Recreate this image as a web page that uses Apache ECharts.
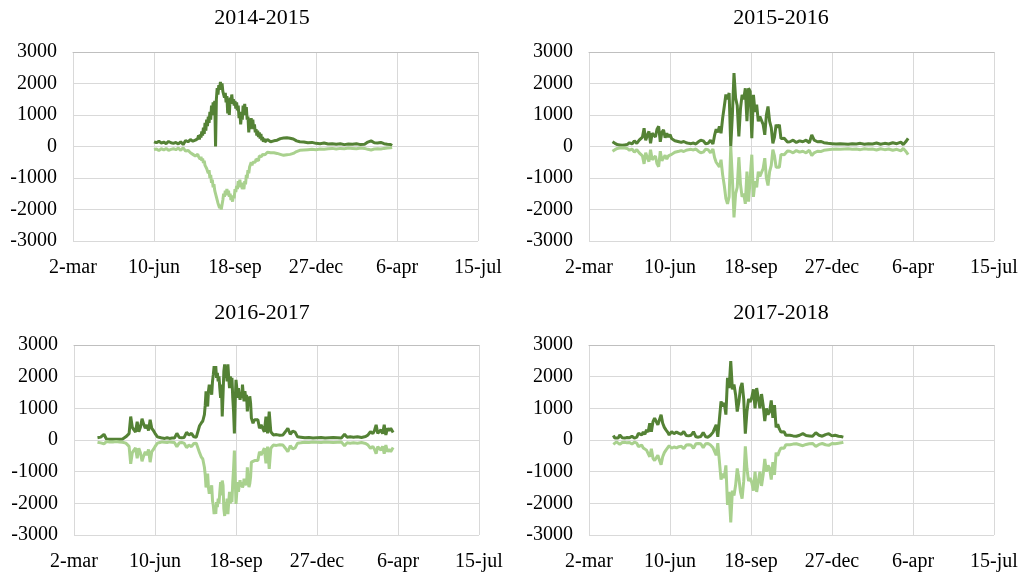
<!DOCTYPE html>
<html>
<head>
<meta charset="utf-8">
<script src="https://cdn.jsdelivr.net/npm/echarts@6/dist/echarts.min.js"></script>
<style>
    html, body { margin: 0; padding: 0; background: #fff; }
    #chart { width: 1027px; height: 573px; }
</style>
</head>
<body>
<div id="chart"></div>
<script>
// x is days counted from 2-mar, one tick every 100 days
var xTickLabels = ['2-mar', '10-jun', '18-sep', '27-dec', '6-apr', '15-jul'];
var seasons = ['2014-2015', '2015-2016', '2016-2017', '2017-2018'];

var days1415 = [100,103,106,109,112,115,118,121,124,127,130,133,136,139,142,145,148,151,
    154,155,156,157,158,159,160,161,162,163,164,165,166,167,168,169,170,171,172,173,
    174,175,176,177,178,179,180,181,182,183,184,185,186,187,188,189,190,191,192,193,
    194,195,196,197,198,199,200,201,202,203,204,205,206,207,208,209,210,211,212,213,
    214,215,216,217,218,219,220,221,222,223,224,225,226,227,228,229,230,231,232,233,
    234,235,236,237,238,239,240,
    244,248,252,256,260,264,268,272,276,
    280,285,290,295,300,305,310,315,320,325,330,335,340,345,350,355,360,
    364,368,372,376,380,384,388,392,394];
var in1415 = [150,120,170,110,140,90,160,120,100,130,80,150,60,190,150,220,170,200,
    250,350,220,380,280,480,350,600,400,750,500,850,650,950,750,1100,850,1300,1000,1400,
    1150,1450,0,1500,1850,1650,1950,1800,2050,1850,2000,1750,1800,1550,1700,1400,1600,1050,1400,1000,
    1550,1350,1650,1400,1500,1300,1450,1200,1400,1150,1300,900,1100,700,1000,850,1300,1100,1350,1000,
    1250,850,950,450,800,550,900,600,850,550,700,450,550,350,500,300,450,250,400,200,
    300,150,250,150,200,120,220,
    150,180,200,250,270,280,260,240,180,
    150,140,120,130,100,90,110,80,90,70,90,60,80,70,90,60,70,
    140,180,120,110,130,90,70,60,30];
var out1415 = [-100,-80,-130,-70,-110,-60,-120,-90,-70,-100,-50,-120,-40,-150,-120,-200,-250,-300,
    -250,-320,-280,-400,-330,-450,-380,-520,-450,-600,-550,-700,-650,-850,-750,-1000,-900,-1150,-1050,-1300,
    -1200,-1400,-1350,-1600,-1550,-1800,-1750,-1950,-1850,-2000,-1950,-1700,-1500,-1600,-1400,-1550,-1350,-1500,-1400,-1600,
    -1500,-1700,-1600,-1750,-1550,-1650,-1350,-1450,-1250,-1350,-1100,-1250,-1050,-1300,-1150,-1350,-1250,-1350,-1100,-1200,
    -900,-1000,-750,-850,-650,-700,-500,-600,-500,-550,-450,-500,-400,-450,-350,-450,-300,-350,-280,-320,
    -250,-300,-220,-260,-200,-240,-180,
    -200,-200,-220,-250,-280,-260,-250,-220,-160,
    -120,-110,-100,-90,-100,-80,-90,-70,-60,-80,-60,-70,-50,-60,-70,-50,-60,
    -90,-110,-80,-70,-80,-60,-50,-40,-30];

var days1516 = [29,32,35,38,41,44,47,50,53,56,59,62,
    64,66,68,70,72,74,76,78,80,82,84,86,88,90,92,94,96,98,100,102,104,106,108,
    111,114,117,120,123,126,129,132,135,138,141,144,147,150,153,
    155,157,159,161,163,165,167,169,171,173,175,177,179,181,183,185,187,189,191,193,195,197,199,201,203,205,207,209,211,213,215,217,219,221,223,225,227,229,231,233,235,237,239,241,243,245,
    248,252,256,260,264,268,272,275,278,282,286,290,295,300,305,310,315,320,325,330,335,340,345,350,355,360,365,370,375,380,385,388,391,394];
var in1516 = [150,100,60,50,40,50,60,120,80,180,100,200,
    260,300,580,200,350,480,100,420,380,300,550,640,150,450,530,280,420,300,380,250,300,180,220,
    150,130,160,120,100,90,110,80,150,200,180,90,100,200,80,
    350,550,450,640,420,900,1270,1650,1500,1700,0,1000,2330,1540,1300,320,1200,1640,1500,1850,800,1850,1750,260,1640,1100,1330,800,950,1000,700,370,1000,1270,800,600,100,300,690,600,690,250,300,260,200,140,
    150,200,130,180,150,200,120,370,200,150,160,120,100,90,80,90,80,70,90,80,100,70,90,80,110,70,100,80,120,90,140,60,150,260];
var out1516 = [-150,-100,-60,-50,-40,-50,-60,-120,-80,-180,-100,-200,
    -260,-300,-550,-200,-350,-480,-100,-420,-380,-300,-550,-640,-150,-450,-500,-280,-400,-300,-350,-250,-280,-180,-200,
    -150,-130,-160,-120,-100,-90,-110,-80,-150,-200,-180,-90,-100,-200,-80,
    -350,-500,-450,-650,-420,-900,-1240,-1650,-1820,-1600,0,-1000,-2250,-1500,-1300,-340,-1200,-1600,-1500,-1820,-800,-1750,-1700,-260,-1600,-1100,-1300,-800,-950,-1000,-700,-370,-1000,-1240,-800,-600,-100,-300,-660,-600,-660,-250,-300,-260,-200,-140,
    -150,-200,-130,-180,-150,-200,-120,-290,-200,-150,-160,-120,-100,-90,-80,-90,-80,-70,-90,-80,-100,-70,-90,-80,-110,-70,-100,-80,-120,-90,-140,-60,-150,-260];

var days1617 = [29,31,33,35,37,40,44,48,52,56,60,62,
    64,66,68,70,72,74,76,78,80,82,84,86,88,90,92,94,96,98,100,
    103,106,109,112,115,118,121,124,127,130,133,136,139,142,145,148,151,
    153,155,157,159,
    161,162,163,164,165,166,167,168,169,170,171,172,173,174,175,176,177,178,179,180,
    181,182,183,184,185,186,187,188,189,190,191,192,193,194,195,196,197,198,199,200,
    201,202,203,204,205,206,207,208,209,210,211,212,213,214,215,216,217,218,219,
    221,223,225,227,229,231,233,235,237,239,241,243,
    246,250,254,258,261,264,267,270,273,276,280,285,290,295,300,305,310,315,320,325,330,334,337,341,345,350,355,360,363,366,369,371,373,375,377,379,381,383,385,387,389,391,394];
var in1617 = [70,50,90,60,180,30,20,20,20,20,30,60,
    100,160,200,740,400,320,250,580,260,400,670,500,370,480,300,640,370,300,210,
    100,80,60,50,70,50,60,60,210,80,70,80,240,160,210,100,90,
    120,450,530,600,
    800,1100,1540,1220,1060,1540,1750,1480,1640,1430,1850,2070,2330,2170,2330,1960,2120,1850,2010,1640,
    1330,1750,740,1430,2170,2390,1960,2230,1850,2390,1960,1640,2010,1750,1960,1330,900,210,1220,1900,
    1640,1330,1640,1430,1270,1480,1330,1750,1430,1220,1540,1330,1430,900,1270,1110,1380,1170,690,
    530,640,600,640,370,480,480,260,740,210,900,260,
    160,170,150,160,260,370,180,280,250,100,90,70,80,60,70,80,60,70,80,70,60,180,90,100,90,100,80,110,160,260,200,300,480,210,250,320,200,480,160,370,300,370,240];
var out1617 = [-70,-50,-90,-60,-120,-50,-60,-60,-50,-60,-70,-80,
    -100,-160,-200,-750,-400,-320,-250,-580,-260,-400,-670,-500,-370,-480,-300,-700,-370,-300,-210,
    -100,-80,-60,-70,-80,-60,-70,-80,-210,-90,-80,-100,-240,-160,-210,-110,-100,
    -120,-400,-530,-600,
    -860,-1100,-1500,-1220,-1060,-1500,-1700,-1480,-1600,-1430,-1920,-2070,-2340,-2170,-2330,-1960,-2120,-1850,-2010,-1640,
    -1330,-1750,-1280,-1430,-2170,-2400,-1960,-2230,-1850,-2340,-1960,-1640,-2010,-1750,-1960,-1330,-900,-330,-1220,-2020,
    -1640,-1330,-1640,-1430,-1270,-1480,-1330,-1500,-1430,-1220,-1400,-1330,-1430,-860,-1270,-1490,-1380,-1170,-700,
    -700,-650,-600,-650,-370,-480,-480,-260,-740,-210,-910,-260,
    -160,-170,-150,-160,-260,-370,-180,-280,-250,-100,-90,-70,-80,-60,-70,-80,-60,-70,-80,-70,-60,-180,-90,-100,-90,-100,-80,-110,-160,-260,-200,-300,-430,-210,-250,-320,-200,-430,-160,-370,-300,-370,-240];

var days1718 = [30,32,34,36,38,41,44,47,50,53,56,59,
    61,63,65,67,69,71,73,75,77,79,81,83,85,87,89,91,93,95,97,99,
    102,105,108,111,114,117,120,123,126,129,132,135,138,141,144,147,150,153,
    155,157,159,161,163,165,167,169,171,173,175,177,179,181,183,185,187,189,191,193,195,197,199,201,203,205,207,209,211,213,215,217,219,221,223,225,227,229,231,233,235,237,239,241,243,245,
    248,252,256,260,264,268,272,276,280,284,288,292,296,300,304,308,311,314];
var in1718 = [140,60,50,60,160,70,60,80,70,120,60,90,
    210,150,160,250,180,320,250,530,260,580,690,650,480,640,800,530,400,320,250,160,
    260,200,250,210,180,270,140,130,150,260,100,90,110,240,100,90,150,240,
    260,480,100,60,1220,1060,1170,800,1960,1640,2490,1600,1750,1430,900,1200,1640,1800,1300,200,900,1300,1200,1350,1600,1000,1640,1650,1000,1450,1100,600,1000,800,900,1250,700,1100,400,500,350,250,200,260,150,200,
    150,130,120,150,200,140,130,120,230,150,120,170,200,130,150,120,110,90];
var out1718 = [-140,-80,-60,-70,-140,-80,-70,-90,-80,-130,-70,-100,
    -210,-170,-160,-250,-200,-320,-270,-530,-280,-580,-650,-600,-480,-640,-780,-530,-400,-320,-250,-180,
    -260,-220,-250,-210,-200,-270,-160,-150,-160,-260,-120,-110,-120,-240,-120,-110,-160,-240,
    -260,-480,-100,-60,-1250,-1060,-1200,-800,-2050,-1640,-2600,-1600,-1750,-1430,-900,-1200,-1640,-1850,-1300,-200,-900,-1300,-1200,-1350,-1600,-1000,-1640,-1650,-1000,-1450,-1100,-600,-1000,-800,-900,-1250,-700,-1100,-400,-500,-350,-250,-200,-260,-150,-200,
    -150,-130,-120,-150,-180,-140,-120,-110,-200,-140,-110,-150,-170,-110,-120,-100,-90,-70];

var panels = [
    { days: days1415, inn: in1415, out: out1415, grid: { left: 73, top: 52, width: 405, height: 189 }, tx: 262, ty: 7 },
    { days: days1516, inn: in1516, out: out1516, grid: { left: 589, top: 52, width: 405, height: 189 }, tx: 781, ty: 7 },
    { days: days1617, inn: in1617, out: out1617, grid: { left: 74, top: 345, width: 405, height: 190 }, tx: 262, ty: 302 },
    { days: days1718, inn: in1718, out: out1718, grid: { left: 589, top: 345, width: 405, height: 190 }, tx: 781, ty: 302 }
];

var FONT = '"Liberation Serif", "Times New Roman", serif';
var DARK = '#548235';
var LIGHT = '#a9d18e';

function pairs(days, vals) {
    return days.map(function (d, i) { return [d, vals[i]]; });
}

var option = {
    animation: false,
    backgroundColor: '#fff',
    title: [], grid: [], xAxis: [], yAxis: [], series: []
};

panels.forEach(function (p, i) {
    option.title.push({
        text: seasons[i], left: p.tx, top: p.ty, textAlign: 'center', padding: 0,
        textStyle: { fontFamily: FONT, fontSize: 22, fontWeight: 'normal', color: '#000' }
    });
    option.grid.push(p.grid);
    // labels + vertical gridlines
    option.xAxis.push({
        type: 'value', gridIndex: i, min: 0, max: 500, interval: 100, position: 'bottom',
        axisLine: { show: false }, axisTick: { show: false },
        splitLine: { show: true, lineStyle: { color: '#d9d9d9', width: 1 } },
        axisLabel: {
            fontFamily: FONT, fontSize: 20, color: '#000', margin: 17,
            formatter: function (v) { return xTickLabels[Math.round(v / 100)]; }
        }
    });
    // horizontal axis line crossing at 0
    option.xAxis.push({
        type: 'value', gridIndex: i, min: 0, max: 500,
        axisLine: { show: true, onZero: true, lineStyle: { color: '#bfbfbf', width: 1 } },
        axisTick: { show: false }, axisLabel: { show: false }, splitLine: { show: false }
    });
    option.yAxis.push({
        type: 'value', gridIndex: i, min: -3000, max: 3000, interval: 1000,
        axisLine: { show: false }, axisTick: { show: false },
        splitLine: { show: true, lineStyle: { color: '#d9d9d9', width: 1 } },
        axisLabel: {
            fontFamily: FONT, fontSize: 20, color: '#000', margin: 16,
            formatter: function (v) { return String(v); }
        }
    });
    option.series.push({
        type: 'line', xAxisIndex: i * 2, yAxisIndex: i, data: pairs(p.days, p.inn),
        showSymbol: false, lineStyle: { color: DARK, width: 3 }, itemStyle: { color: DARK }
    });
    option.series.push({
        type: 'line', xAxisIndex: i * 2, yAxisIndex: i, data: pairs(p.days, p.out),
        showSymbol: false, lineStyle: { color: LIGHT, width: 3 }, itemStyle: { color: LIGHT }
    });
});

var chart = echarts.init(document.getElementById('chart'));
chart.setOption(option);
</script>
</body>
</html>
